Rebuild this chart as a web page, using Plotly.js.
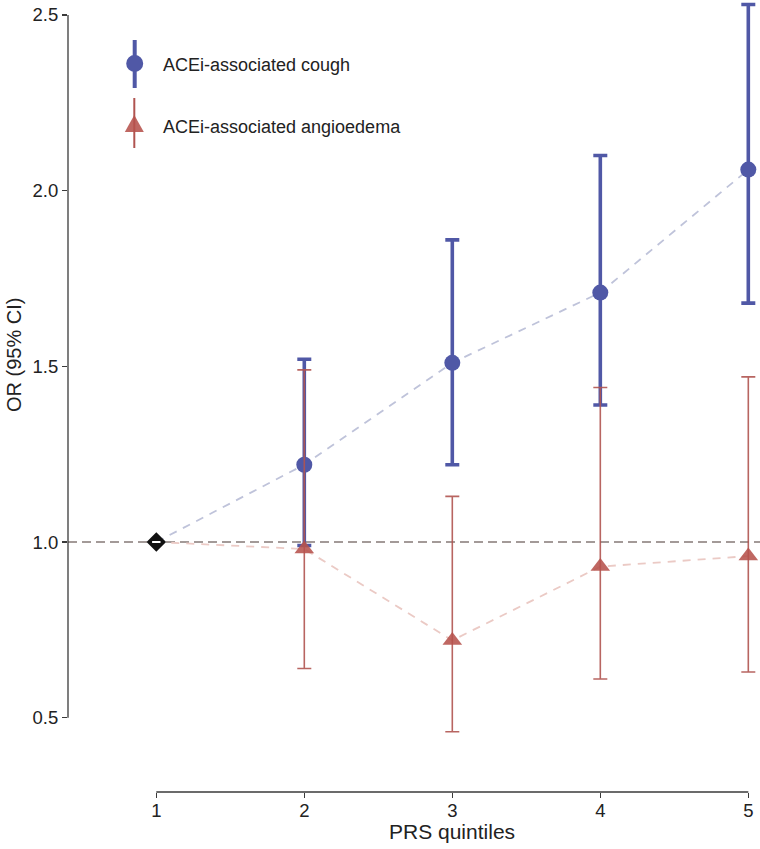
<!DOCTYPE html>
<html>
<head>
<meta charset="utf-8">
<script src="https://cdn.plot.ly/plotly-3.0.1.min.js"></script>
<style>
html,body{margin:0;padding:0;background:#fff;}
#chart{width:760px;height:849px;}
</style>
</head>
<body>
<div id="chart"></div>
<script>
// ---- data ----
var quintiles = [1, 2, 3, 4, 5];
var xTickLabels = ["1", "2", "3", "4", "5"];
var yTickVals = [0.5, 1.0, 1.5, 2.0, 2.5];
var yTickLabels = ["0.5", "1.0", "1.5", "2.0", "2.5"];

var refX = [1];
var refOR = [1.0];

var coughX = [2, 3, 4, 5];
var coughOR = [1.22, 1.51, 1.71, 2.06];
var coughLow = [0.99, 1.22, 1.39, 1.68];
var coughHigh = [1.52, 1.86, 2.10, 2.53];

var angioX = [2, 3, 4, 5];
var angioOR = [0.98, 0.72, 0.93, 0.96];
var angioLow = [0.64, 0.46, 0.61, 0.63];
var angioHigh = [1.49, 1.13, 1.44, 1.47];

var coughName = "ACEi-associated cough";
var angioName = "ACEi-associated angioedema";
var xTitle = "PRS quintiles";
var yTitle = "OR (95% CI)";

// ---- styles ----
var blue = "#5058a6";
var red = "#b05450";
var redFill = "rgba(182,82,76,0.88)";
var font = "Liberation Sans, Arial, Helvetica, sans-serif";
var textCol = "#222222";

function diff(a, b) { return a.map(function (v, i) { return v - b[i]; }); }

var coughLineX = refX.concat(coughX);
var coughLineY = refOR.concat(coughOR);
var angioLineX = refX.concat(angioX);
var angioLineY = refOR.concat(angioOR);

var traces = [
  {
    x: coughLineX, y: coughLineY, type: "scatter", mode: "lines",
    line: {color: "#bfc3da", width: 1.8, dash: "8px,7px"},
    hoverinfo: "skip", showlegend: false, cliponaxis: false
  },
  {
    x: angioLineX, y: angioLineY, type: "scatter", mode: "lines",
    line: {color: "#ebcac5", width: 1.8, dash: "8px,7px"},
    hoverinfo: "skip", showlegend: false, cliponaxis: false
  },
  {
    x: coughX, y: coughOR, type: "scatter", mode: "markers", name: coughName,
    marker: {symbol: "circle", size: 16, color: blue},
    error_y: {type: "data", symmetric: false,
      array: diff(coughHigh, coughOR), arrayminus: diff(coughOR, coughLow),
      color: blue, thickness: 3.6, width: 7},
    showlegend: false, cliponaxis: false
  },
  {
    x: angioX, y: angioOR, type: "scatter", mode: "markers", name: angioName,
    marker: {symbol: "triangle-up", size: 17, color: redFill},
    error_y: {type: "data", symmetric: false,
      array: diff(angioHigh, angioOR), arrayminus: diff(angioOR, angioLow),
      color: "rgba(176,84,80,0.9)", thickness: 1.6, width: 7},
    showlegend: false, cliponaxis: false
  },
  {
    x: refX, y: refOR, type: "scatter", mode: "markers", name: "Reference",
    marker: {symbol: "diamond", size: 15, color: "#111111", line: {width: 0}},
    showlegend: false, cliponaxis: false
  },
  {
    x: refX, y: refOR, type: "scatter", mode: "markers", hoverinfo: "skip",
    marker: {symbol: "line-ew-open", size: 6, color: "#ffffff", line: {color: "#ffffff", width: 2}},
    showlegend: false, cliponaxis: false
  }
];

// legend geometry helpers (paper coords)
var L = 68, PW = 692, PH = 792;
function px(x) { return (x - L) / PW; }
function py(y) { return (PH - y) / PH; }

var shapes = [
  // reference line at OR = 1
  {type: "line", xref: "paper", yref: "y", x0: 0, x1: 1, y0: 1, y1: 1,
   line: {color: "#a39a98", width: 2, dash: "9px,5px"}, layer: "below"},
  // range-frame y axis line
  {type: "line", xref: "paper", yref: "y", x0: 0, x1: 0, y0: yTickVals[0], y1: yTickVals[yTickVals.length - 1],
   line: {color: "#3a3a3a", width: 1.3}},
  // range-frame x axis line
  {type: "line", xref: "x", yref: "paper", x0: quintiles[0], x1: quintiles[quintiles.length - 1], y0: 0, y1: 0,
   line: {color: "#3a3a3a", width: 1.3}},
  // legend: cough
  {type: "line", xref: "paper", yref: "paper", x0: px(134.7), x1: px(134.7), y0: py(88), y1: py(40),
   line: {color: blue, width: 4}},
  {type: "circle", xref: "paper", yref: "paper", xsizemode: "pixel", ysizemode: "pixel",
   xanchor: px(134.7), yanchor: py(63.5), x0: -8.5, x1: 8.5, y0: -8.5, y1: 8.5,
   fillcolor: blue, line: {width: 0}},
  // legend: angioedema
  {type: "line", xref: "paper", yref: "paper", x0: px(134.3), x1: px(134.3), y0: py(148), y1: py(98),
   line: {color: red, width: 2}},
  {type: "path", xref: "paper", yref: "paper", xsizemode: "pixel", ysizemode: "pixel",
   xanchor: px(134.3), yanchor: py(124), path: "M -9.5 -8 L 9.5 -8 L 0 9 Z",
   fillcolor: redFill, line: {width: 0}}
];

var annotations = [
  {text: coughName, xref: "paper", yref: "paper", x: px(161), y: py(65), xanchor: "left", yanchor: "middle",
   showarrow: false, font: {family: font, size: 18, color: textCol}},
  {text: angioName, xref: "paper", yref: "paper", x: px(161), y: py(127), xanchor: "left", yanchor: "middle",
   showarrow: false, font: {family: font, size: 18, color: textCol}},
  {text: xTitle, xref: "paper", yref: "paper", x: px(452), y: py(831), xanchor: "center", yanchor: "middle",
   showarrow: false, font: {family: font, size: 21, color: textCol}},
  {text: yTitle, xref: "paper", yref: "paper", x: px(14), y: py(355), xanchor: "center", yanchor: "middle",
   textangle: -90, showarrow: false, font: {family: font, size: 20, color: textCol}}
];

var layout = {
  width: 760, height: 849,
  margin: {l: 68, r: 0, t: 0, b: 57, pad: 0},
  paper_bgcolor: "#ffffff", plot_bgcolor: "#ffffff",
  showlegend: false,
  font: {family: font, color: textCol},
  xaxis: {
    range: [0.4034, 5.079], showgrid: false, zeroline: false, showline: false,
    tickmode: "array", tickvals: quintiles, ticktext: xTickLabels,
    ticks: "outside", ticklen: 5, tickwidth: 1.3, tickcolor: "#3a3a3a",
    tickfont: {family: font, size: 18.5, color: textCol},
    ticklabelstandoff: -3,
    title: {text: ""}
  },
  yaxis: {
    range: [0.2885, 2.5427], showgrid: false, zeroline: false, showline: false,
    tickmode: "array", tickvals: yTickVals, ticktext: yTickLabels,
    ticks: "outside", ticklen: 5, tickwidth: 1.3, tickcolor: "#3a3a3a",
    tickfont: {family: font, size: 18.5, color: textCol},
    title: {text: ""}
  },
  shapes: shapes,
  annotations: annotations
};

Plotly.newPlot("chart", traces, layout, {displayModeBar: false, staticPlot: true});
</script>
</body>
</html>
